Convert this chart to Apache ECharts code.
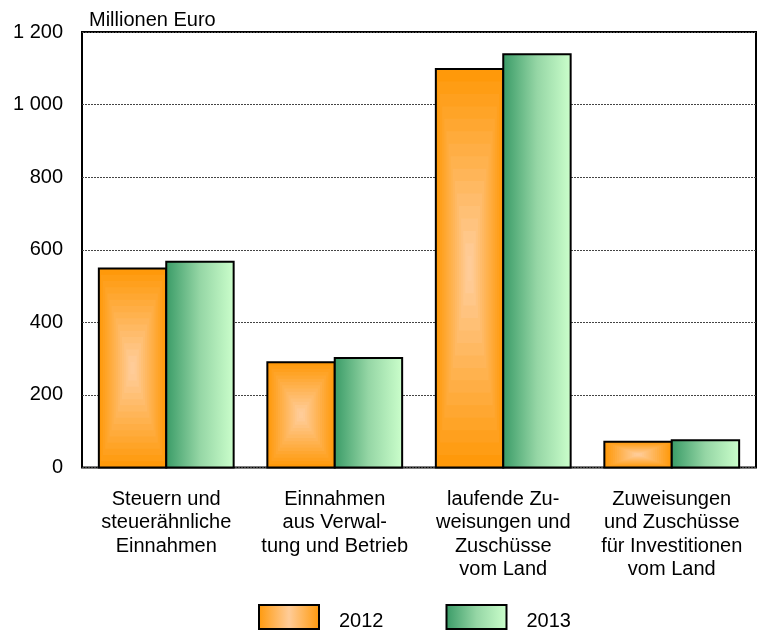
<!DOCTYPE html>
<html>
<head>
<meta charset="utf-8">
<script src="https://cdn.jsdelivr.net/npm/echarts@6/dist/echarts.min.js"></script>
<style>
html,body{margin:0;padding:0;background:#fff;}
#chart{width:761px;height:631px;}
</style>
</head>
<body>
<div id="chart"></div>
<script>
var categories = [
  'Steuern und\nsteuerähnliche\nEinnahmen',
  'Einnahmen\naus Verwal-\ntung und Betrieb',
  'laufende Zu-\nweisungen und\nZuschüsse\nvom Land',
  'Zuweisungen\nund Zuschüsse\nfür Investitionen\nvom Land'
];
var seriesNames = ['2012', '2013'];
var values2012 = [548, 290, 1098, 71];
var values2013 = [567, 302, 1139, 75];
var yTickLabels = ['0', '200', '400', '600', '800', '1 000', '1 200'];
var unitLabel = 'Millionen Euro';

var FONT = '"Liberation Sans", Arial, sans-serif';
var ORANGE_EDGE = [255, 153, 10];
var ORANGE_CENTER = [255, 204, 152];

function mix(a, b, t) {
  return 'rgb(' + Math.round(a[0] + (b[0] - a[0]) * t) + ',' +
    Math.round(a[1] + (b[1] - a[1]) * t) + ',' +
    Math.round(a[2] + (b[2] - a[2]) * t) + ')';
}

function barGeom(api, side) {
  var idx = api.value(0), v = api.value(1);
  var top = api.coord([idx, v]);
  var base = api.coord([idx, 0]);
  var band = api.size([1, 0])[0];
  var w = band * 0.4;
  var x0 = side < 0 ? top[0] - w : top[0];
  return { x: x0, y: top[1], w: w, h: base[1] - top[1] };
}

function renderOrange(params, api) {
  var g = barGeom(api, -1);
  var children = [];
  var N = 16;
  var cx = g.x + g.w / 2, cy = g.y + g.h / 2;
  for (var i = 0; i < N; i++) {
    var t = i / N;
    var s = 1 - t;
    children.push({
      type: 'rect',
      shape: { x: cx - g.w * s / 2, y: cy - g.h * s / 2, width: g.w * s, height: g.h * s },
      style: { fill: mix(ORANGE_EDGE, ORANGE_CENTER, Math.min(1, t * 1.1)) }
    });
  }
  children.push({
    type: 'rect',
    shape: { x: g.x, y: g.y, width: g.w, height: g.h },
    style: { fill: null, stroke: '#000', lineWidth: 2 }
  });
  return { type: 'group', children: children };
}

function greenFill() {
  return new echarts.graphic.LinearGradient(0, 0, 1, 0, [
    { offset: 0, color: '#389a66' },
    { offset: 0.5, color: '#95d6a5' },
    { offset: 1, color: '#ccffcc' }
  ]);
}

function renderGreen(params, api) {
  var g = barGeom(api, 1);
  return {
    type: 'rect',
    shape: { x: g.x, y: g.y, width: g.w, height: g.h },
    style: { fill: greenFill(), stroke: '#000', lineWidth: 2 }
  };
}

var orangeLegendFill = new echarts.graphic.LinearGradient(0, 0, 1, 0, [
  { offset: 0, color: '#ff990a' },
  { offset: 0.5, color: '#ffcc98' },
  { offset: 1, color: '#ff990a' }
]);

var chart = echarts.init(document.getElementById('chart'), null, { renderer: 'canvas' });
chart.setOption({
  animation: false,
  backgroundColor: '#fff',
  textStyle: { fontFamily: FONT },
  grid: {
    left: 82, right: 5, top: 32, bottom: 163.5,
    show: true, borderColor: '#000', borderWidth: 2, backgroundColor: 'transparent'
  },
  graphic: [{
    type: 'text', left: 89, top: 10,
    style: { text: unitLabel, font: '20px ' + FONT, fill: '#000' }
  }],
  legend: {
    left: 253, top: 599,
    itemWidth: 60, itemHeight: 24, itemGap: 62,
    icon: 'rect',
    formatter: function (name) { return '{t|' + name + '}'; },
    textStyle: {
      fontSize: 20, color: '#000', fontFamily: FONT,
      rich: { t: { fontSize: 20, color: '#000', fontFamily: FONT, padding: [9, 0, 0, 15] } }
    },
    data: [
      { name: seriesNames[0], icon: 'rect', itemStyle: { color: orangeLegendFill, borderColor: '#000', borderWidth: 2 } },
      { name: seriesNames[1], icon: 'rect', itemStyle: { color: greenFill(), borderColor: '#000', borderWidth: 2 } }
    ]
  },
  xAxis: {
    type: 'category',
    data: categories,
    boundaryGap: true,
    axisLine: { show: false },
    axisTick: { show: false },
    axisLabel: {
      interval: 0, margin: 20, fontSize: 20, lineHeight: 23.5,
      color: '#000', fontFamily: FONT, align: 'center'
    }
  },
  yAxis: {
    type: 'value', min: 0, max: 1200, interval: 200,
    axisLine: { show: false },
    axisTick: { show: false },
    axisLabel: {
      margin: 19, fontSize: 20, color: '#000', fontFamily: FONT,
      formatter: function (v) { return yTickLabels[Math.round(v / 200)]; }
    },
    splitLine: { show: true, lineStyle: { color: '#444', width: 1, type: [2, 1] } }
  },
  series: [
    {
      name: seriesNames[0], type: 'custom', renderItem: renderOrange,
      itemStyle: { color: orangeLegendFill, borderColor: '#000', borderWidth: 2 },
      encode: { x: 0, y: 1 },
      data: values2012.map(function (v, i) { return [i, v]; })
    },
    {
      name: seriesNames[1], type: 'custom', renderItem: renderGreen,
      itemStyle: { color: greenFill(), borderColor: '#000', borderWidth: 2 },
      encode: { x: 0, y: 1 },
      data: values2013.map(function (v, i) { return [i, v]; })
    }
  ]
});
</script>
</body>
</html>
